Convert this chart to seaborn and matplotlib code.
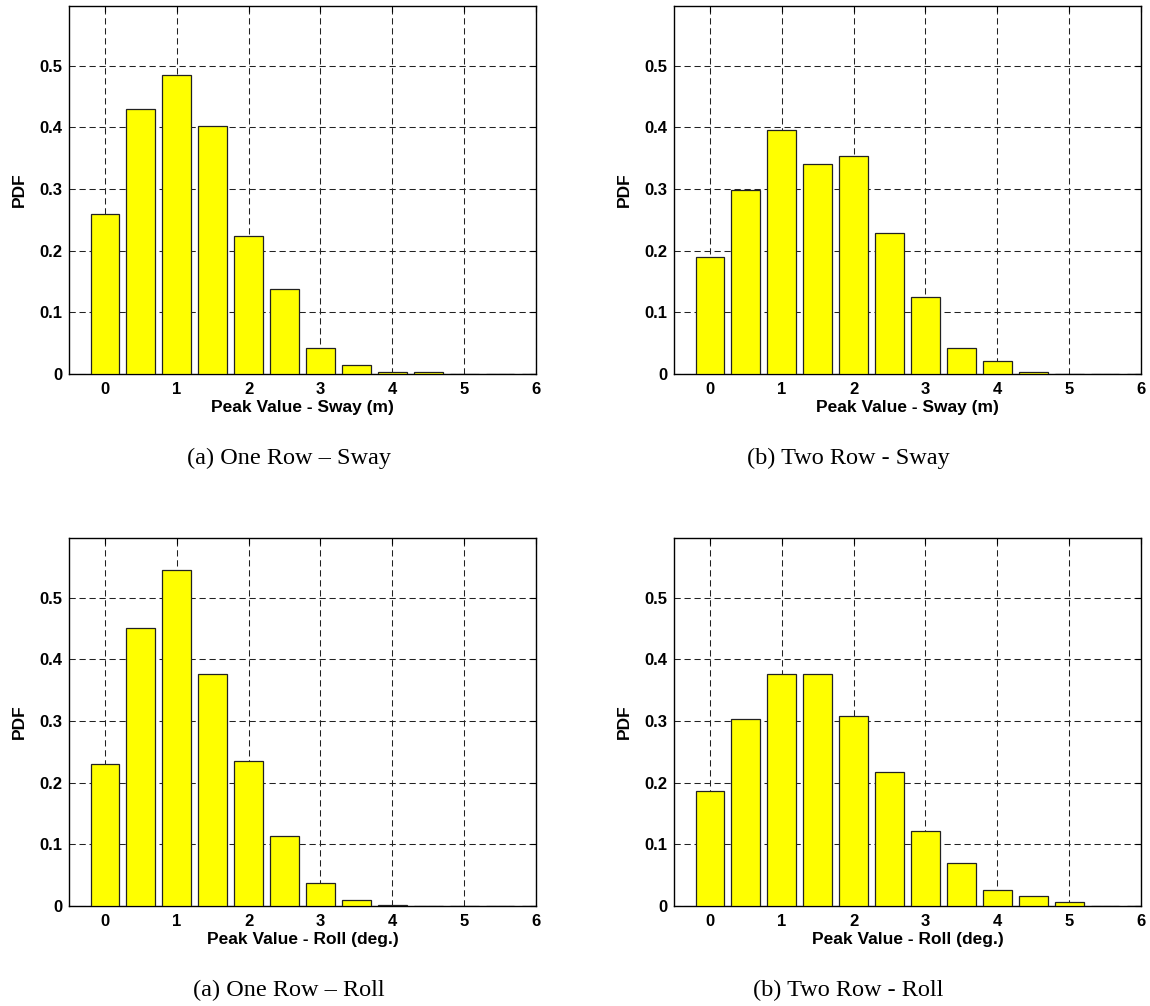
import numpy as np
import pandas as pd
import matplotlib
matplotlib.use("Agg")
import matplotlib.pyplot as plt
import seaborn as sns

# ---- data ----
bin_centers = [0.0, 0.5, 1.0, 1.5, 2.0, 2.5, 3.0, 3.5, 4.0, 4.5, 5.0, 5.5, 6.0]
one_row_sway = [0.259, 0.430, 0.485, 0.403, 0.2245, 0.1385, 0.042, 0.015, 0.003, 0.003, 0.0005, 0.0003, 0.0002]
two_row_sway = [0.190, 0.298, 0.396, 0.341, 0.354, 0.228, 0.1245, 0.042, 0.021, 0.003, 0.0005, 0.0002, 0.0001]
one_row_roll = [0.230, 0.451, 0.545, 0.377, 0.235, 0.1136, 0.037, 0.0104, 0.001, 0.0005, 0.0002, 0.0001, 0.0]
two_row_roll = [0.186, 0.303, 0.3756, 0.3756, 0.3085, 0.2175, 0.121, 0.0704, 0.0266, 0.0157, 0.006, 0.0005, 0.0002]

xlabels = ["Peak Value - Sway (m)", "Peak Value - Sway (m)",
           "Peak Value - Roll (deg.)", "Peak Value - Roll (deg.)"]
captions = ["(a) One Row \u2013 Sway", "(b) Two Row - Sway",
            "(a) One Row \u2013 Roll", "(b) Two Row - Roll"]
xticks = [0, 1, 2, 3, 4, 5, 6]
yticks = [0, 0.1, 0.2, 0.3, 0.4, 0.5]
ytick_labels = ["0", "0.1", "0.2", "0.3", "0.4", "0.5"]

sns.set_style("white")
plt.rcParams["font.family"] = ["Liberation Sans", "DejaVu Sans"]
plt.rcParams["text.color"] = "black"
plt.rcParams["axes.labelcolor"] = "black"
plt.rcParams["xtick.color"] = "black"
plt.rcParams["ytick.color"] = "black"

fig = plt.figure(figsize=(11.5, 10.06), dpi=100)

W, H = 1150, 1006
axes_px = [(69, 6), (674, 6), (69, 538), (674, 538)]  # left, top in px
aw, ah = 467, 368
caption_pos = [(289, 458), (848, 458), (289, 990), (848, 990)]

series = [one_row_sway, two_row_sway, one_row_roll, two_row_roll]

for i, vals in enumerate(series):
    l, t = axes_px[i]
    ax = fig.add_axes([l / W, 1 - (t + ah) / H, aw / W, ah / H])
    df = pd.DataFrame({"x": bin_centers, "pdf": vals})
    sns.barplot(data=df, x="x", y="pdf", native_scale=True, width=0.8,
                color="#FFFF00", saturation=1, edgecolor="#222222",
                linewidth=0.9, errorbar=None, ax=ax, zorder=3)
    ax.set_xlim(-0.5, 6)
    ax.set_ylim(0, 0.597)
    ax.set_xticks(xticks)
    ax.set_xticklabels([str(v) for v in xticks])
    ax.set_yticks(yticks)
    ax.set_yticklabels(ytick_labels)
    ax.grid(True, color="#222222", linestyle=(0, (6, 3.6)), linewidth=0.75, zorder=0)
    ax.set_axisbelow(True)
    for s in ax.spines.values():
        s.set_color("black")
        s.set_linewidth(1.0)
        s.set_visible(True)
    ax.tick_params(axis="both", direction="in", length=4, width=0.8,
                   top=True, right=True, labelsize=12, colors="black")
    ax.tick_params(axis="x", pad=6)
    ax.tick_params(axis="y", pad=5)
    for lab in ax.get_xticklabels() + ax.get_yticklabels():
        lab.set_fontweight("bold")
    ax.set_xlabel(xlabels[i], fontsize=12.5, fontweight="bold", labelpad=2, color="black")
    ax.set_ylabel("PDF", fontsize=12.5, fontweight="bold", labelpad=9, color="black")
    cx, cy = caption_pos[i]
    fig.text(cx / W, 1 - cy / H, captions[i], ha="center", va="center",
             fontsize=17.5, color="black", family=["Liberation Serif", "DejaVu Serif"])

fig.savefig("out.png", dpi=100, facecolor="white")
